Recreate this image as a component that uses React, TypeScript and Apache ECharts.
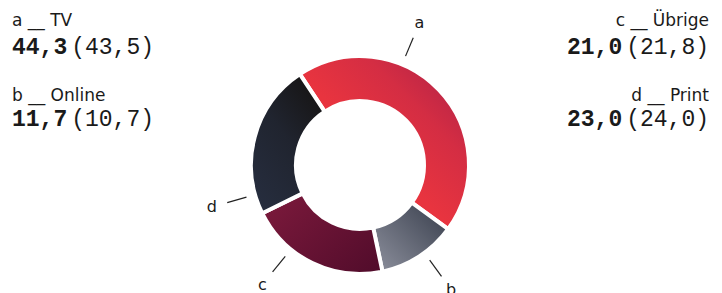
import React, { useEffect, useRef } from "react";
import * as echarts from "echarts";

// ---- data ----
const keys = ["a", "b", "c", "d"];
const categories = ["TV", "Online", "Übrige", "Print"];
const values = [44.3, 11.7, 21.0, 23.0];
const previous = [43.5, 10.7, 21.8, 24.0];

// ---- layout / style ----
const W = 722;
const H = 293;
const CX = 360;
const CY = 165;
const R_IN = 64;
const R_OUT = 109;
const START_ANGLE = 123.5;
const LABEL_ANGLES = [22.7, 143.8, 219.3, 254.2]; // clockwise from 12 o'clock
const LINE_R1 = 118;
const LINE_R2 = 138;
const LABEL_R = 154;

const lg = (x: number, y: number, x2: number, y2: number, stops: [number, string][]) =>
  new echarts.graphic.LinearGradient(
    x, y, x2, y2,
    stops.map(([offset, color]) => ({ offset, color }))
  );

const fills = [
  lg(1, 0, 0.45, 0.55, [[0, "#a71f48"], [0.55, "#d42d43"], [1, "#e8343f"]]),
  lg(0, 1, 1, 0.1, [[0, "#8e919e"], [1, "#3a404e"]]),
  lg(0, 0.2, 1, 0.9, [[0, "#7a193b"], [1, "#520c2b"]]),
  lg(0.2, 1, 0.9, 0, [[0, "#262d3e"], [0.5, "#20242f"], [1, "#151210"]]),
];

const fmt = (v: number) => v.toFixed(1).replace(".", ",");

const TEXT = "#1a1a1a";
const LABEL_FONT = "DejaVu Sans";
const NUM_FONT = "Liberation Mono";

function legendBlock(i: number, x: number, yLabel: number, yNum: number, align: "left" | "right") {
  return [
    {
      type: "text",
      x,
      y: yLabel,
      style: {
        text: `${keys[i]} __ ${categories[i]}`,
        fill: TEXT,
        font: `17px '${LABEL_FONT}'`,
        align,
        verticalAlign: "middle",
      },
    },
    {
      type: "text",
      x,
      y: yNum,
      style: {
        text: `{v|${fmt(values[i])}}{p|(${fmt(previous[i])})}`,
        align,
        verticalAlign: "middle",
        rich: {
          v: { fontFamily: NUM_FONT, fontWeight: "bold", fontSize: 23, fill: TEXT, color: TEXT },
          p: { fontFamily: NUM_FONT, fontWeight: "normal", fontSize: 23, fill: TEXT, color: TEXT, padding: [0, 0, 0, 4] },
        },
      },
    },
  ];
}

export default function App() {
  const ref = useRef<HTMLDivElement>(null);
  useEffect(() => {
    if (!ref.current) return;
    const chart = echarts.init(ref.current, null, { renderer: "svg" });
    const toXY = (deg: number, r: number) => {
      const a = (deg * Math.PI) / 180;
      return [CX + r * Math.sin(a), CY - r * Math.cos(a)];
    };
    chart.setOption({
      animation: false,
      backgroundColor: "#ffffff",
      series: [
        {
          type: "pie",
          center: [CX, CY],
          radius: [R_IN, R_OUT],
          startAngle: START_ANGLE,
          clockwise: true,
          silent: true,
          avoidLabelOverlap: false,
          itemStyle: { borderColor: "#ffffff", borderWidth: 4 },
          label: {
            show: true,
            formatter: "{b}",
            color: TEXT,
            fontSize: 16,
            lineHeight: 16,
            fontFamily: LABEL_FONT,
          },
          labelLine: { show: true, lineStyle: { color: "#222222", width: 1.2 } },
          labelLayout: (p: any) => {
            const ang = LABEL_ANGLES[p.dataIndex];
            const [lx, ly] = toXY(ang, LABEL_R);
            const p1 = toXY(ang, LINE_R1);
            const p2 = toXY(ang, LINE_R2);
            return {
              x: lx,
              y: ly,
              align: "center",
              verticalAlign: "middle",
              labelLinePoints: [p1, p2, p2],
            };
          },
          emphasis: { disabled: true },
          data: keys.map((k, i) => ({
            name: k,
            value: values[i],
            itemStyle: { color: fills[i] },
          })),
        },
      ],
      graphic: [
        ...legendBlock(0, 12, 20, 48, "left"),
        ...legendBlock(1, 12, 95, 120, "left"),
        ...legendBlock(2, 709, 20, 48, "right"),
        ...legendBlock(3, 709, 95, 120, "right"),
      ],
    });
    return () => chart.dispose();
  }, []);
  return (
    <div
      ref={ref}
      style={{ position: "absolute", left: 0, top: 0, width: W, height: H }}
    />
  );
}
